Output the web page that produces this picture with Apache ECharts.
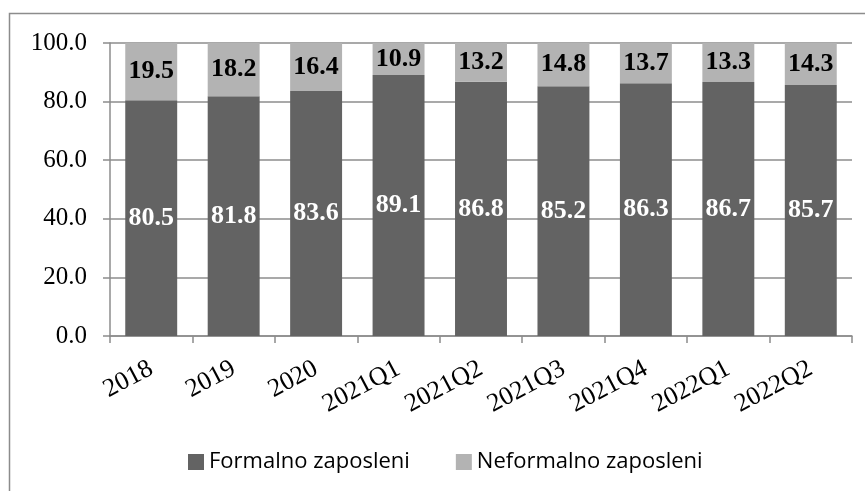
<!DOCTYPE html>
<html>
<head>
<meta charset="utf-8">
<script src="https://cdn.jsdelivr.net/npm/echarts@6/dist/echarts.min.js"></script>
<style>
  html, body { margin: 0; padding: 0; background: #fff; }
  #chart { width: 865px; height: 491px; }
</style>
</head>
<body>
<div id="chart"></div>
<script>
var categories = ['2018', '2019', '2020', '2021Q1', '2021Q2', '2021Q3', '2021Q4', '2022Q1', '2022Q2'];
var formal = [80.5, 81.8, 83.6, 89.1, 86.8, 85.2, 86.3, 86.7, 85.7];
var informal = [19.5, 18.2, 16.4, 10.9, 13.2, 14.8, 13.7, 13.3, 14.3];

var serif = '"Liberation Serif", "DejaVu Serif", serif';
var sans = '"Open Sans", "Noto Sans", sans-serif';

var myChart = echarts.init(document.getElementById('chart'));
var option = {
  animation: false,
  graphic: [{
    type: 'rect',
    shape: { x: 9.5, y: 13.5, width: 900, height: 600 },
    style: { fill: 'none', stroke: '#8c8c8c', lineWidth: 1.5 },
    silent: true
  }],
  grid: { left: 110, right: 13, top: 43, bottom: 155 },
  legend: {
    top: 446,
    left: 183,
    itemWidth: 16,
    itemHeight: 16,
    itemGap: 46,
    icon: 'rect',
    textStyle: { fontFamily: sans, fontSize: 22, color: '#000' },
    data: ['Formalno zaposleni', 'Neformalno zaposleni']
  },
  xAxis: {
    type: 'category',
    data: categories,
    axisLine: { lineStyle: { color: '#8c8c8c', width: 1.5 } },
    axisTick: { show: true, length: 7, lineStyle: { color: '#8c8c8c', width: 1.5 } },
    axisLabel: {
      rotate: 28,
      margin: 31,
      fontFamily: serif,
      fontSize: 26,
      color: '#000'
    }
  },
  yAxis: {
    type: 'value',
    min: 0,
    max: 100,
    interval: 20,
    axisLine: { show: true, lineStyle: { color: '#8c8c8c', width: 1.5 } },
    axisTick: { show: true, length: 7, lineStyle: { color: '#8c8c8c', width: 1.5 } },
    splitLine: { lineStyle: { color: '#8c8c8c', width: 1.5 } },
    axisLabel: {
      margin: 23,
      fontFamily: serif,
      fontSize: 25,
      color: '#000',
      formatter: function (v) { return v.toFixed(1); }
    }
  },
  series: [{
    name: 'Formalno zaposleni',
    type: 'bar',
    stack: 'total',
    barCategoryGap: '37%',
    data: formal,
    itemStyle: { color: '#636363' },
    label: {
      show: true,
      position: 'inside',
      fontFamily: serif,
      fontSize: 26,
      fontWeight: 'bold',
      color: '#fff',
      formatter: function (p) { return p.value.toFixed(1); }
    }
  }, {
    name: 'Neformalno zaposleni',
    type: 'bar',
    stack: 'total',
    data: informal,
    itemStyle: { color: '#b3b3b3' },
    label: {
      show: true,
      position: 'inside',
      fontFamily: serif,
      fontSize: 26,
      fontWeight: 'bold',
      color: '#000',
      formatter: function (p) { return p.value.toFixed(1); }
    }
  }]
};
myChart.setOption(option);
</script>
</body>
</html>
